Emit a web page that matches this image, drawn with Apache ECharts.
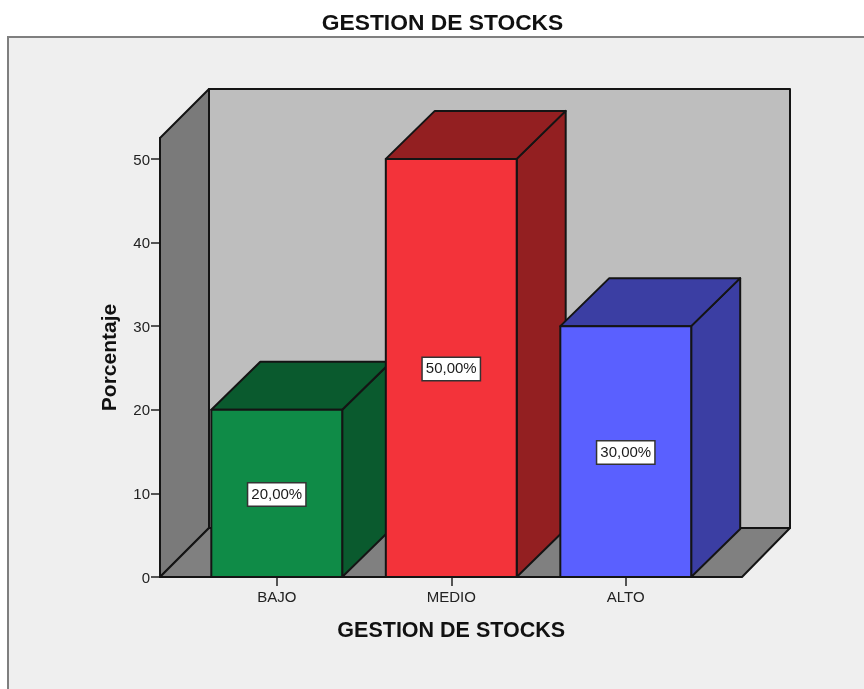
<!DOCTYPE html>
<html>
<head>
<meta charset="utf-8">
<title>GESTION DE STOCKS</title>
<style>
  html, body { margin: 0; padding: 0; background: #fff; }
  #chart { width: 864px; height: 689px; }
</style>
<script src="https://cdn.jsdelivr.net/npm/echarts@6/dist/echarts.min.js"></script>
</head>
<body>
<div id="chart"></div>
<script>
const categories = ['BAJO', 'MEDIO', 'ALTO']
const percentages = [20, 50, 30]
const percentLabels = ['20,00%', '50,00%', '30,00%']
const yTicks = [0, 10, 20, 30, 40, 50]
const yMax = 52.5

const frontColors = ['#0f8b47', '#f3333a', '#5a60ff']
const sideColors = ['#0a5a2e', '#931f21', '#3b3ea3']

const depth = 49 // profundidad 3D en px
const barDepthY = 48
const wallOverhang = 29.5 // el suelo sobresale del grid
const barRatio = 0.75
const edge = { stroke: '#141414', lineWidth: 2, lineJoin: 'round' }

function face(points, fill, z2) {
  return { type: 'polygon', z2: z2, shape: { points: points }, style: Object.assign({ fill: fill }, edge) }
}

// paredes y suelo
function renderWalls(params, api) {
  const rect = params.coordSys
  const top = api.coord([0, yMax])[1]
  const bottom = api.coord([0, 0])[1]
  const left = rect.x - wallOverhang
  const right = rect.x + rect.width + wallOverhang - 0.5
  return {
    type: 'group',
    children: [
      face([[left + depth, top - depth], [right + depth - 1, top - depth], [right + depth - 1, bottom - depth], [left + depth, bottom - depth]], '#bebebe', 1),
      face([[left, top], [left + depth, top - depth], [left + depth, bottom - depth], [left, bottom]], '#7a7a7a', 2),
      face([[left, bottom], [left + depth, bottom - depth], [right + depth - 1, bottom - depth], [right, bottom]], '#808080', 2)
    ]
  }
}

// barra 3D: frontal, lateral, tapa y etiqueta
function renderBar(params, api) {
  const i = api.value(0)
  const value = api.value(1)
  const w = api.size([1, 0])[0] * barRatio
  const topMid = api.coord([i, value])
  const bottom = api.coord([i, 0])[1]
  const x0 = topMid[0] - w / 2
  const x1 = topMid[0] + w / 2
  const y0 = topMid[1]
  const labelPos = api.coord([i, value / 2])
  return {
    type: 'group',
    children: [
      face([[x1, y0], [x1 + depth, y0 - barDepthY], [x1 + depth, bottom - barDepthY], [x1, bottom]], sideColors[i], 1),
      face([[x0, y0], [x0 + depth, y0 - barDepthY], [x1 + depth, y0 - barDepthY], [x1, y0]], sideColors[i], 1),
      face([[x0, y0], [x1, y0], [x1, bottom], [x0, bottom]], frontColors[i], 2),
      {
        type: 'text',
        z2: 3,
        style: {
          x: labelPos[0],
          y: labelPos[1] + 1,
          text: percentLabels[i],
          align: 'center',
          verticalAlign: 'middle',
          fill: '#1a1a1a',
          font: '15px "Liberation Sans", Arial, sans-serif',
          backgroundColor: '#fff',
          borderColor: '#333',
          borderWidth: 1.5,
          padding: [4, 3, 3, 3]
        }
      }
    ]
  }
}

const chart = echarts.init(document.getElementById('chart'), null, { renderer: 'canvas' })
const fontFamily = '"Liberation Sans", Arial, sans-serif'

chart.setOption({
  animation: false,
  backgroundColor: '#fff',
  graphic: [
    {
      type: 'rect',
      z: -10,
      shape: { x: 8, y: 37, width: 870, height: 670 },
      style: { fill: '#efefef', stroke: '#7f7f7f', lineWidth: 2 }
    }
  ],
  title: {
    text: 'GESTION DE STOCKS',
    left: 437.5,
    top: 7,
    textAlign: 'center',
    textStyle: { fontFamily: fontFamily, fontSize: 22.8, fontWeight: 'bold', color: '#111' }
  },
  grid: { left: 189.5, top: 138, width: 523.5, height: 439 },
  xAxis: {
    type: 'category',
    data: categories,
    name: 'GESTION DE STOCKS',
    nameLocation: 'middle',
    nameGap: 43,
    nameTextStyle: { fontFamily: fontFamily, fontSize: 21.5, fontWeight: 'bold', color: '#111' },
    axisLine: { show: true, lineStyle: { color: '#141414', width: 2 } },
    axisTick: { show: true, alignWithLabel: true, length: 9, lineStyle: { color: '#222', width: 1.5 } },
    axisLabel: { fontFamily: fontFamily, fontSize: 15, color: '#222', margin: 13 }
  },
  yAxis: {
    type: 'value',
    min: 0,
    max: yMax,
    offset: 29.5,
    name: 'Porcentaje',
    nameLocation: 'middle',
    nameGap: 39,
    nameTextStyle: { fontFamily: fontFamily, fontSize: 21, fontWeight: 'bold', color: '#111' },
    axisLine: { show: true, lineStyle: { color: '#141414', width: 2 } },
    axisTick: { show: true, length: 9, customValues: yTicks, lineStyle: { color: '#222', width: 1.5 } },
    axisLabel: { fontFamily: fontFamily, fontSize: 15, color: '#222', margin: 10, verticalAlign: 'top', lineHeight: 3, customValues: yTicks },
    splitLine: { show: false }
  },
  series: [
    { type: 'custom', z: 1, silent: true, renderItem: renderWalls, data: [[0, 0]], clip: false },
    {
      type: 'custom',
      z: 3,
      renderItem: renderBar,
      encode: { x: 0, y: 1 },
      data: percentages.map((v, i) => [i, v]),
      clip: false
    }
  ]
})
</script>
</body>
</html>
